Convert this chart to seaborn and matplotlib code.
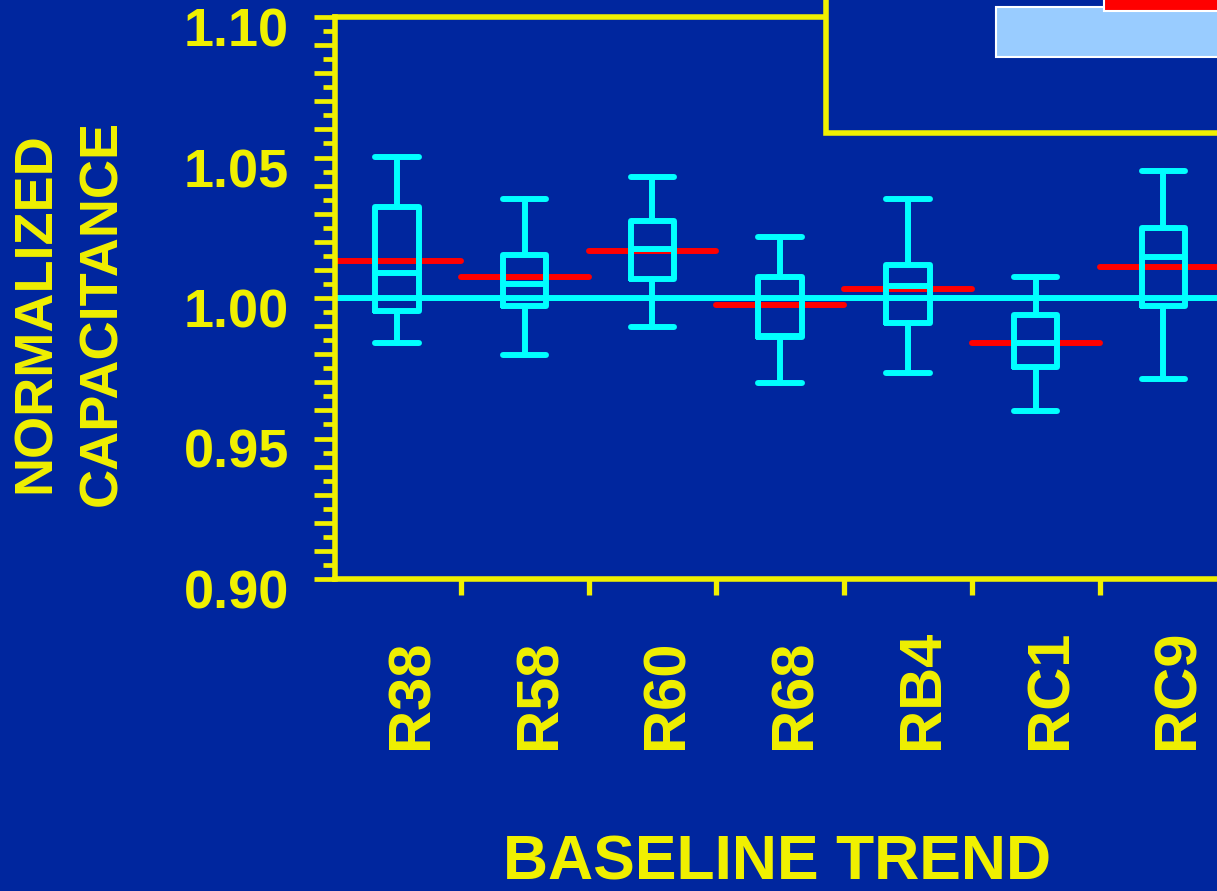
import numpy as np
import pandas as pd
import seaborn as sns
import matplotlib
matplotlib.use("Agg")
import matplotlib.pyplot as plt
import matplotlib.ticker as mticker
import matplotlib.transforms as mtransforms
from matplotlib.patches import Rectangle

# ---------------- data ----------------
categories = ["R38", "R58", "R60", "R68", "RB4", "RC1", "RC9"]
whisker_low = [0.9840, 0.9798, 0.9896, 0.9696, 0.9732, 0.9599, 0.9711]
quartile_1 = [0.9953, 0.9970, 1.0068, 0.9860, 0.9912, 0.9753, 0.9970]
medians = [1.0088, 1.0051, 1.0173, 0.9866, 1.0042, 0.9839, 1.0145]
quartile_3 = [1.0324, 1.0152, 1.0273, 1.0074, 1.0116, 0.9938, 1.0250]
whisker_high = [1.0502, 1.0351, 1.0431, 1.0217, 1.0351, 1.0074, 1.0451]
red_levels = [1.0131, 1.0074, 1.0167, 0.9974, 1.0031, 0.9839, 1.0110]
reference_level = 1.00
y_tick_values = [0.90, 0.95, 1.00, 1.05, 1.10]

NAVY = "#00269E"
YELLOW = "#F0F000"
CYAN = "#00FFFF"
RED = "#FF0000"
LIGHTBLUE = "#99CCFF"
LW = 4.3

sns.set_theme(style="ticks")
plt.rcParams["font.family"] = ["Liberation Sans", "DejaVu Sans"]
plt.rcParams["font.weight"] = "bold"
plt.rcParams["lines.solid_capstyle"] = "round"
plt.rcParams["lines.solid_joinstyle"] = "round"

# five-number summaries -> tidy frame (5 points give exact quartiles)
rows = []
for c, lo, a, m, b, hi in zip(categories, whisker_low, quartile_1, medians,
                              quartile_3, whisker_high):
    for v in (lo, a, m, b, hi):
        rows.append({"sensor": c, "value": v})
df = pd.DataFrame(rows)

W, H = 1217, 891
fig = plt.figure(figsize=(W / 100, H / 100), dpi=100, facecolor=NAVY)
ax = fig.add_axes([335 / W, 1 - 579 / H, 1020 / W, 562 / H])
ax.set_facecolor(NAVY)

xpos = np.arange(len(categories))
ax.hlines(red_levels, xpos - 0.5, xpos + 0.5, colors=RED, linewidth=LW,
          zorder=1.5, capstyle="round")
ax.axhline(reference_level, color=CYAN, linewidth=LW, zorder=1.6)

box_kws = dict(data=df, x="sensor", y="value", order=categories,
               whis=(0, 100), fill=False, color=CYAN, linewidth=LW,
               width=0.34, showfliers=False, ax=ax,
               medianprops=dict(solid_capstyle="round"),
               whiskerprops=dict(solid_capstyle="round"))
try:
    sns.boxplot(capwidths=0.34, **box_kws)
except TypeError:
    sns.boxplot(**box_kws)

ax.set_xlim(-0.485, 7.5)
ax.set_ylim(0.90, 1.10)

# y axis ticks
ax.yaxis.set_major_locator(mticker.FixedLocator(np.round(np.arange(0.90, 1.1001, 0.01), 2)))
ax.yaxis.set_minor_locator(mticker.MultipleLocator(0.005))
ax.yaxis.set_major_formatter(mticker.FuncFormatter(
    lambda v, p: f"{v:.2f}" if any(abs(v - t) < 1e-6 for t in y_tick_values) else ""))
ax.tick_params(axis="y", which="major", direction="out", length=15, width=3.4,
               color=YELLOW, labelcolor=YELLOW, labelsize=39, pad=18)
ax.tick_params(axis="y", which="minor", direction="out", length=9, width=3.4,
               color=YELLOW)

# x axis ticks
ax.set_xticks(xpos)
ax.set_xticklabels(categories, rotation=90, va="bottom", ha="center",
                   fontsize=43, color=YELLOW, fontweight="bold")
ax.xaxis.set_minor_locator(mticker.FixedLocator(np.arange(0.5, 7.6, 1.0)))
ax.tick_params(axis="x", which="major", length=0, pad=122.5)
ax.tick_params(axis="x", which="minor", direction="out", length=11.5, width=3.8,
               color=YELLOW)

for s in ["left", "top", "bottom"]:
    ax.spines[s].set_color(YELLOW)
    ax.spines[s].set_linewidth(4.0)
ax.spines["right"].set_visible(False)

ax.set_xlabel("BASELINE TREND", fontsize=45, color=YELLOW, fontweight="bold")
ax.xaxis.set_label_coords(0.4333, -0.557)
ax.xaxis.label.set_va("bottom")
ax.set_ylabel("")

fig.text(69 / W, 1 - 313 / H, "NORMALIZED\nCAPACITANCE", rotation=90,
         ha="center", va="center", multialignment="center", linespacing=1.42,
         fontsize=39, color=YELLOW, fontweight="bold")

# shift tick labels to match the reference placement
dx = mtransforms.ScaledTranslation(15 / 100, 0, fig.dpi_scale_trans)
for lab in ax.get_xticklabels():
    lab.set_transform(lab.get_transform() + dx)
dy = mtransforms.ScaledTranslation(0, -10 / 100, fig.dpi_scale_trans)
for lab in ax.get_yticklabels():
    lab.set_transform(lab.get_transform() + dy)

# partially visible legend frame in the upper right
fig.add_artist(Rectangle((826 / W, 1 - 133 / H), 0.6, 0.3, transform=fig.transFigure,
                         facecolor=NAVY, edgecolor=YELLOW, linewidth=4.0, zorder=5))
fig.add_artist(Rectangle((996 / W, 1 - 57 / H), 0.4, 50 / H, transform=fig.transFigure,
                         facecolor=LIGHTBLUE, edgecolor="white", linewidth=1.5, zorder=6))
fig.add_artist(Rectangle((1104 / W, 1 - 11 / H), 0.3, 0.1, transform=fig.transFigure,
                         facecolor=RED, edgecolor="white", linewidth=1.5, zorder=7))

fig.savefig("out.png", dpi=100, facecolor=NAVY)
